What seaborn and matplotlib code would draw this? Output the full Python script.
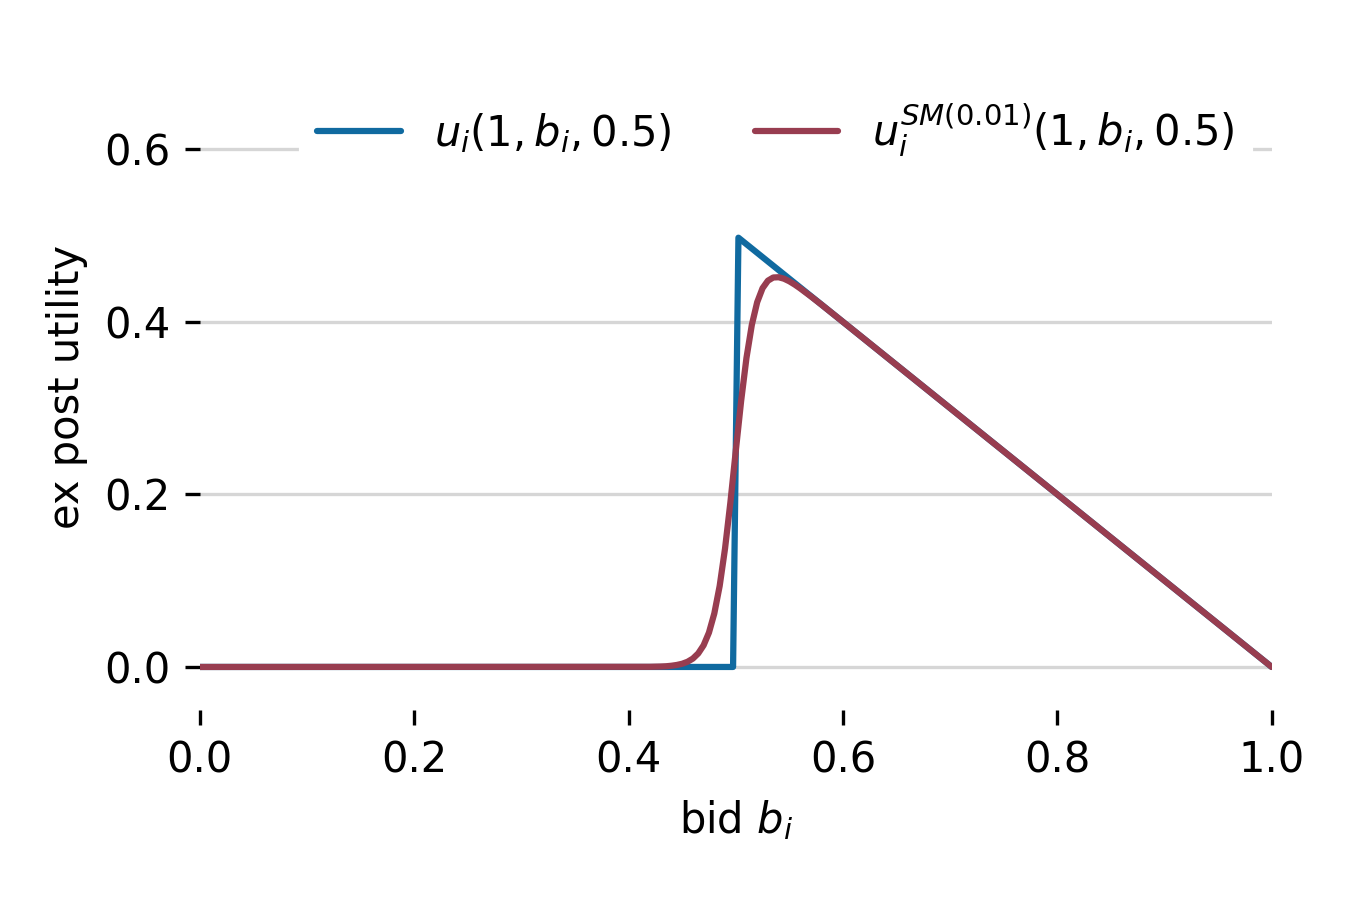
import matplotlib
matplotlib.use("Agg")
import matplotlib.pyplot as plt
import seaborn as sns

# bids and ex post utility
bid_exact = [0.0, 0.4975, 0.5025, 1.0]
util_exact = [0.0, 0.0, 0.4975, 0.0]

bid_smooth = [0.0, 0.42, 0.43, 0.435, 0.44, 0.445, 0.45, 0.455, 0.46, 0.465,
              0.47, 0.475, 0.48, 0.485, 0.49, 0.495, 0.5, 0.505, 0.51, 0.515,
              0.52, 0.525, 0.53, 0.535, 0.54, 0.545, 0.55, 0.555, 0.56, 0.57,
              0.58, 0.6, 1.0]
util_smooth = [0.0, 0.0002, 0.0005, 0.0008, 0.0014, 0.0023, 0.0037, 0.0060,
               0.0097, 0.0157, 0.0251, 0.0398, 0.0620, 0.0939, 0.1372, 0.1907,
               0.25, 0.3081, 0.3582, 0.3965, 0.4228, 0.4390, 0.4477, 0.4514,
               0.4517, 0.4500, 0.4470, 0.4432, 0.4389, 0.4296, 0.4199, 0.40,
               0.0]

labels = [r"$u_i(1, b_i, 0.5)$", r"$u_i^{SM(0.01)}(1, b_i, 0.5)$"]
colors = ["#106aa0", "#983d50"]
yticks = [0.0, 0.2, 0.4, 0.6]
xticks = [0.0, 0.2, 0.4, 0.6, 0.8, 1.0]

sns.set_style("white")
plt.rcParams["font.family"] = ["DejaVu Sans"]
plt.rcParams["mathtext.fontset"] = "dejavusans"
plt.rcParams["text.color"] = "black"
plt.rcParams["axes.labelcolor"] = "black"
plt.rcParams["xtick.color"] = "black"
plt.rcParams["ytick.color"] = "black"

fig = plt.figure(figsize=(4.5, 3), dpi=300)
ax = fig.add_axes([0.148, 0.211, 0.794, 0.719])

sns.lineplot(x=bid_exact, y=util_exact, ax=ax, color=colors[0], lw=1.5,
             label=labels[0], estimator=None, sort=False)
sns.lineplot(x=bid_smooth, y=util_smooth, ax=ax, color=colors[1], lw=1.5,
             label=labels[1], estimator=None, sort=False)

ax.set_xlim(0, 1)
ax.set_ylim(-0.05, 0.7)
ax.set_xticks(xticks)
ax.set_yticks(yticks)
ax.yaxis.grid(True, color="#d6d6d6", lw=0.8)
ax.xaxis.grid(False)
ax.set_axisbelow(True)
for s in ax.spines.values():
    s.set_visible(False)
ax.tick_params(axis="both", which="major", direction="out", length=3.5,
               width=0.8, color="black", labelsize=10, pad=3.5,
               bottom=True, left=True)

ax.set_xlabel(r"bid $b_i$", fontsize=10)
ax.set_ylabel("ex post utility", fontsize=10)

leg = ax.legend(loc="upper right", ncol=2, fontsize=10, frameon=True,
                framealpha=1, edgecolor="white", facecolor="white",
                handlelength=2.0, fancybox=False)

fig.savefig("out.png", dpi=300)
